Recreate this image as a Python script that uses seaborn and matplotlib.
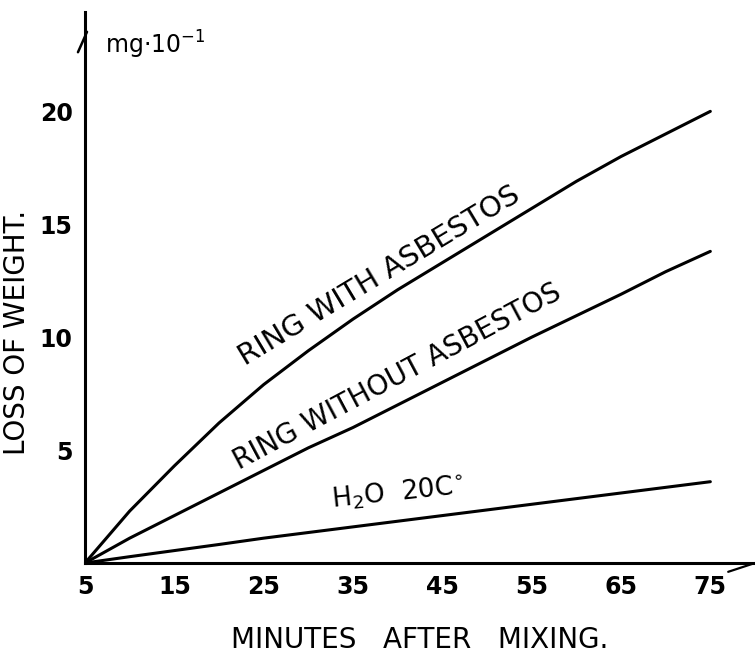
import numpy as np
import pandas as pd
import seaborn as sns
import matplotlib.pyplot as plt

# -------------------------
# Data (loss of weight, mg x 10^-1)
# -------------------------
minutes = [5, 10, 15, 20, 25, 30, 35, 40, 45, 50, 55, 60, 65, 70, 75]
with_asbestos = [0.0, 2.3, 4.3, 6.2, 7.9, 9.4, 10.8, 12.1, 13.3, 14.5,
                 15.7, 16.9, 18.0, 19.0, 20.0]
without_asbestos = [0.0, 1.1, 2.1, 3.1, 4.1, 5.1, 6.0, 7.0, 8.0, 9.0,
                    10.0, 10.95, 11.9, 12.9, 13.8]
water_20c = [0.0, 0.28, 0.55, 0.82, 1.1, 1.35, 1.6, 1.85, 2.1, 2.35,
             2.6, 2.85, 3.1, 3.35, 3.6]

series_names = ["RING WITH ASBESTOS", "RING WITHOUT ASBESTOS", "H$_2$O  20C$^{\\circ}$"]
x_ticks = [5, 15, 25, 35, 45, 55, 65, 75]
y_ticks = [5, 10, 15, 20]

df = pd.DataFrame({
    "Minutes": minutes * 3,
    "Loss": with_asbestos + without_asbestos + water_20c,
    "Series": [series_names[0]] * len(minutes)
    + [series_names[1]] * len(minutes)
    + [series_names[2]] * len(minutes),
})

# -------------------------
# Style
# -------------------------
sns.set_style("white")
plt.rcParams["font.family"] = ["DejaVu Sans"]
plt.rcParams["mathtext.default"] = "regular"
for key in ("text.color", "axes.labelcolor", "xtick.color", "ytick.color"):
    plt.rcParams[key] = "black"

fig = plt.figure(figsize=(7.55, 6.58), dpi=100)
ax = fig.add_axes([85 / 755, 95 / 658, 670 / 755, 551 / 658])

sns.lineplot(
    data=df, x="Minutes", y="Loss", units="Series", estimator=None,
    color="black", linewidth=2.2, legend=False, ax=ax,
)

ax.set_xlim(5, 80)
ax.set_ylim(0, 24.4)
ax.set_xticks(x_ticks)
ax.set_yticks(y_ticks)
ax.tick_params(direction="in", length=5, width=1.3, labelsize=17, pad=9)
for t in ax.get_xticklabels() + ax.get_yticklabels():
    t.set_fontweight("bold")

sns.despine(ax=ax)
for s in ("left", "bottom"):
    ax.spines[s].set_linewidth(2.2)
    ax.spines[s].set_color("black")

ax.set_xlabel("MINUTES   AFTER   MIXING.", fontsize=20)
ax.xaxis.set_label_coords(0.5, -0.115)
ax.set_ylabel("LOSS OF WEIGHT.", fontsize=20)
ax.yaxis.set_label_coords(-0.08, 0.418)

# arrow strokes at axis ends
ax.plot([0.003, -0.0105], [0.964, 0.927], transform=ax.transAxes, color="black",
        lw=1.8, clip_on=False)
ax.plot([1.0, 0.96], [0.0, -0.016], transform=ax.transAxes, color="black",
        lw=1.6, clip_on=False)

# unit
ax.text(0.03, 0.94, "mg$\\cdot$10$^{-1}$", transform=ax.transAxes,
        fontsize=17, ha="left", va="center")

# curve labels
ax.text(37.9, 12.7, series_names[0], rotation=31, fontsize=21,
        ha="center", va="center", rotation_mode="anchor")
ax.text(40.0, 8.25, series_names[1], rotation=28, fontsize=20,
        ha="center", va="center", rotation_mode="anchor")
ax.text(40.0, 3.1, series_names[2], rotation=6, fontsize=19,
        ha="center", va="center", rotation_mode="anchor")

plt.savefig("out.png", dpi=100, facecolor="white")
plt.close()
